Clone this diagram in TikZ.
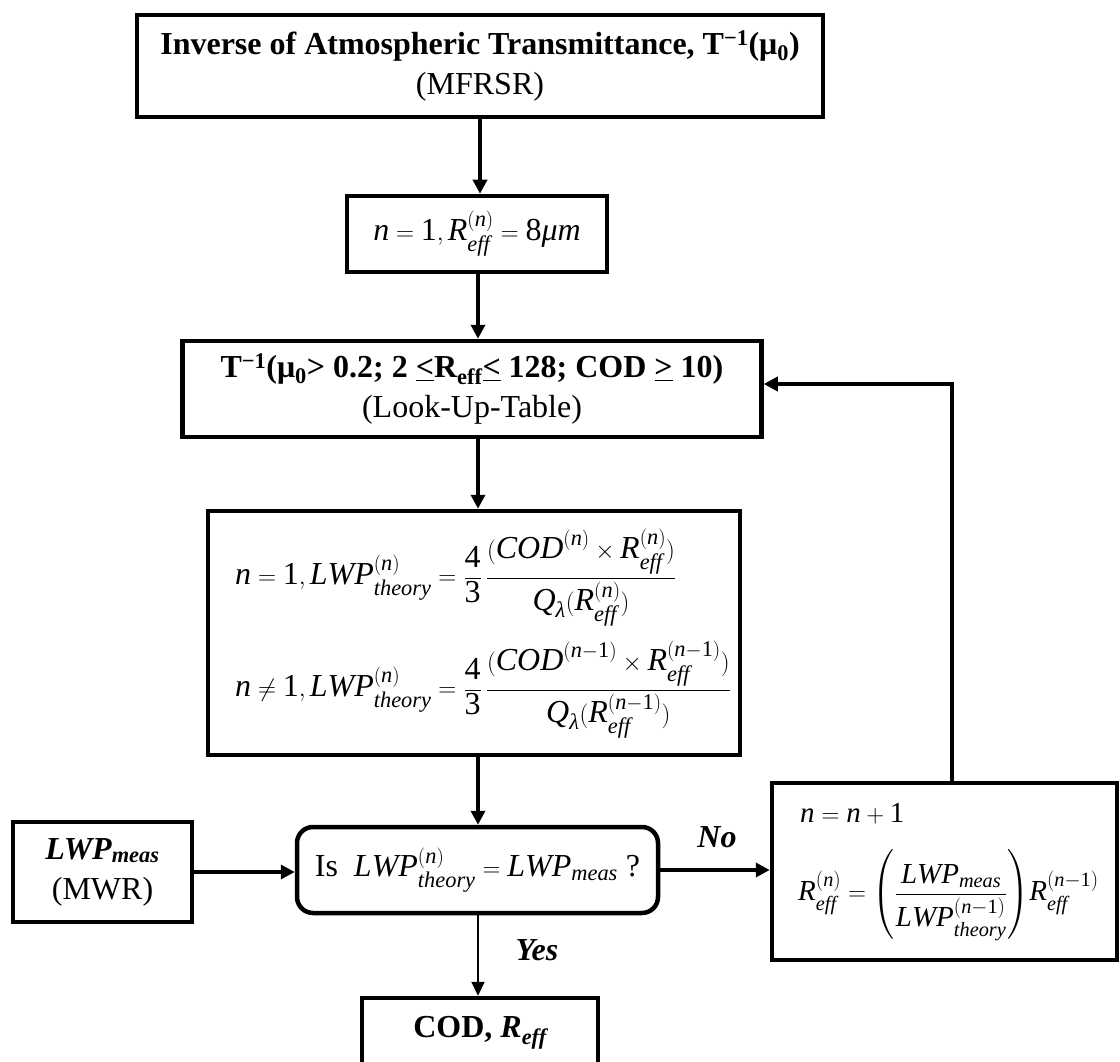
\documentclass[tikz,border=0pt]{standalone}
\usepackage{amsmath}
\usepackage{fontspec}
\setmainfont{Liberation Serif}
\usetikzlibrary{arrows.meta,calc}
\newcommand{\fsz}{\fontsize{32}{40}\selectfont}
\newcommand{\fszs}{\fontsize{29}{36}\selectfont}
\newcommand{\vi}[1]{\mathit{#1}}
\newcommand{\dg}[1]{\text{\upshape #1}}
\newcommand{\effx}{\mathit{eff}}
\newcommand{\pn}{(\vi{n})}
\newcommand{\pnm}{(\vi{n}-\dg{1})}
\newcommand{\lam}{\text{\itshape λ}}
\begin{document}
\begin{tikzpicture}[x=1pt,y=-1pt,
  box/.style={draw, line width=4.5pt, align=center, inner sep=0pt, font=\fsz},
  txt/.style={inner sep=0pt, font=\fsz, align=left},
  lab/.style={inner sep=0pt, font=\fsz\bfseries\itshape},
  arr/.style={line width=4pt, -{Triangle[length=14pt,width=14pt]}},
  thinarr/.style={line width=2pt, -{Triangle[length=14pt,width=13pt]}}]
\clip (0,0) rectangle (1120,1062);
\fill[white] (0,0) rectangle (1120,1062);
\coordinate (col) at (478,0);
% boxes
\node[box, minimum width=686, minimum height=102] (inv) at (480,66)
  {\textbf{Inverse of Atmospheric Transmittance, T\textsuperscript{−1}(μ\textsubscript{0})}\\(MFRSR)};
\node[box, minimum width=260, minimum height=76] (init) at (477,234)
  {$\vi{n}=\dg{1}, \vi{R}^{\pn}_{\effx} = \dg{8}\text{\itshape μ}\vi{m}$};
\node[box, minimum width=579, minimum height=96] (lut) at (472,389)
  {\textbf{T\textsuperscript{−1}(μ\textsubscript{0}> 0.2; 2 \underline{<}R\textsubscript{eff}\underline{<} 128; COD \underline{>} 10)}\\(Look-Up-Table)};
\node[box, minimum width=532, minimum height=244] (eqb) at (474,633) {};
\node[txt, anchor=west] (eq1) at (235,578)
  {$\vi{n}=\dg{1}, \vi{LWP}^{\pn}_{\vi{theory}} = \dfrac{\dg{4}}{\dg{3}}\,\dfrac{(\vi{COD}^{\pn}\times \vi{R}^{\pn}_{\effx})}{\vi{Q}_{\lam}(\vi{R}^{\pn}_{\effx})}$};
\node[txt, anchor=west] (eq2) at (235,690)
  {$\vi{n}\neq \dg{1}, \vi{LWP}^{\pn}_{\vi{theory}} = \dfrac{\dg{4}}{\dg{3}}\,\dfrac{(\vi{COD}^{\pnm}\times \vi{R}^{\pnm}_{\effx})}{\vi{Q}_{\lam}(\vi{R}^{\pnm}_{\effx})}$};
\node[box, rounded corners=16pt, minimum width=361, minimum height=86] (dec) at (477.5,870)
  {Is\ \ $\vi{LWP}^{\pn}_{\vi{theory}} = \vi{LWP}_{\vi{meas}}$\ ?};
\node[box, minimum width=179, minimum height=100] (meas) at (102.5,872)
  {\textbf{\textit{LWP\textsubscript{meas}}}\\(MWR)};
\node[box, minimum width=345, minimum height=177] (upd) at (944.5,871.5) {};
\node[txt, anchor=west, font=\fszs] (upd1) at (800,814) {$\vi{n}=\vi{n}+\dg{1}$};
\node[txt, anchor=west, font=\fszs] (upd2) at (798,895)
  {$\vi{R}^{\pn}_{\effx} = \left(\dfrac{\vi{LWP}_{\vi{meas}}}{\vi{LWP}^{\pnm}_{\vi{theory}}}\right)\! \vi{R}^{\pnm}_{\effx}$};
\node[box, minimum width=236, minimum height=70] (res) at (480,1033)
  {\textbf{COD, \textit{R\textsubscript{eff}}}};
% labels
\node[lab] (no) at (717,837) {No};
\node[lab] (yes) at (537,950) {Yes};
% connectors
\draw[arr] (inv.south) -- (inv.south |- init.north);
\draw[arr] (col |- init.south) -- (col |- lut.north);
\draw[arr] (col |- lut.south) -- (col |- eqb.north);
\draw[arr] (col |- eqb.south) -- (col |- dec.north);
\draw[arr] (meas.east) -- (meas.east -| dec.west);
\draw[arr] (dec.east) -- (dec.east -| upd.west);
\draw[thinarr] (col |- dec.south) -- (col |- res.north);
\coordinate (fb) at (952,384);
\draw[arr] (fb |- upd.north) -- (fb) -- (fb -| lut.east);
\end{tikzpicture}
\end{document}
